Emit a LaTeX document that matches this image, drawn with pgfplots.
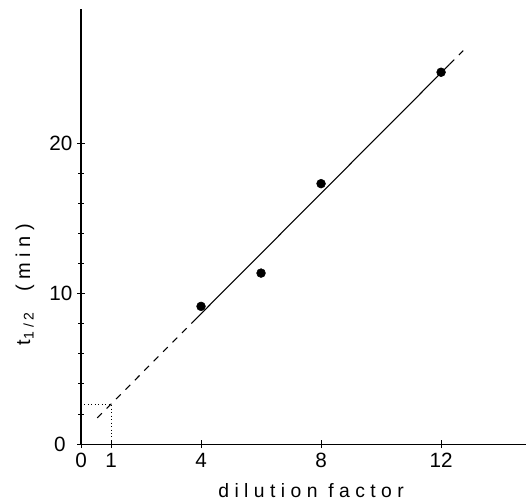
\documentclass[border=0pt]{standalone}
\usepackage{pgfplots}
\pgfplotsset{compat=1.18}
\usepackage{fontspec}
\setmainfont{Liberation Sans}
\newfontfamily\spaced[LetterSpace=28]{Liberation Sans}

\begin{document}
\begin{tikzpicture}
\begin{axis}[
  name=ax,
  scale only axis,
  width=333.7pt,
  height=326.3pt,
  xmin=0, xmax=14.83,
  ymin=0, ymax=28.9,
  axis lines=left,
  axis line style={-, line width=0.9pt},
  xtick={0,1,4,8,12},
  ytick={0,10,20},
  yticklabels={0\hspace*{5pt},10,20},
  minor ytick={2,4,6,8,12,14,16,18},
  tick align=center,
  major tick length=6pt,
  minor tick length=4pt,
  tick style={black, line width=0.7pt},
  tick label style={font=\fontsize{15.5}{17}\selectfont},
  /pgf/number format/assume math mode=true,
  xlabel={\spaced dilution factor},
  ylabel={\spaced t\textsubscript{1/2}\quad(min)},
  xlabel style={font=\fontsize{14.5}{16}\selectfont, at={(rel axis cs:0.517,-0.106)}, anchor=center},
  ylabel style={font=\fontsize{15}{16}\selectfont, at={(rel axis cs:-0.126,0.367)}, anchor=center},
  clip=false,
]
\addplot[only marks, mark=*, mark size=3.3pt] coordinates
  {(4,9.15) (6,11.36) (8,17.3) (12,24.7)};
\addplot[line width=0.8pt] coordinates {(3.69,8.04) (12.28,25.22)};
\addplot[line width=0.8pt, dash pattern=on 5pt off 5pt] coordinates {(0.54,1.74) (3.69,8.04)};
\addplot[line width=0.8pt, dash pattern=on 5pt off 5pt] coordinates {(12.28,25.22) (12.74,26.14)};
\addplot[line width=0.6pt, dotted] coordinates {(0,2.66) (1,2.66) (1,0)};
\end{axis}
\pgfresetboundingbox
\useasboundingbox ([shift={(-60.75pt,-44pt)}]ax.south west) rectangle ([shift={(0pt,6.75pt)}]ax.north east);
\end{tikzpicture}
\end{document}
